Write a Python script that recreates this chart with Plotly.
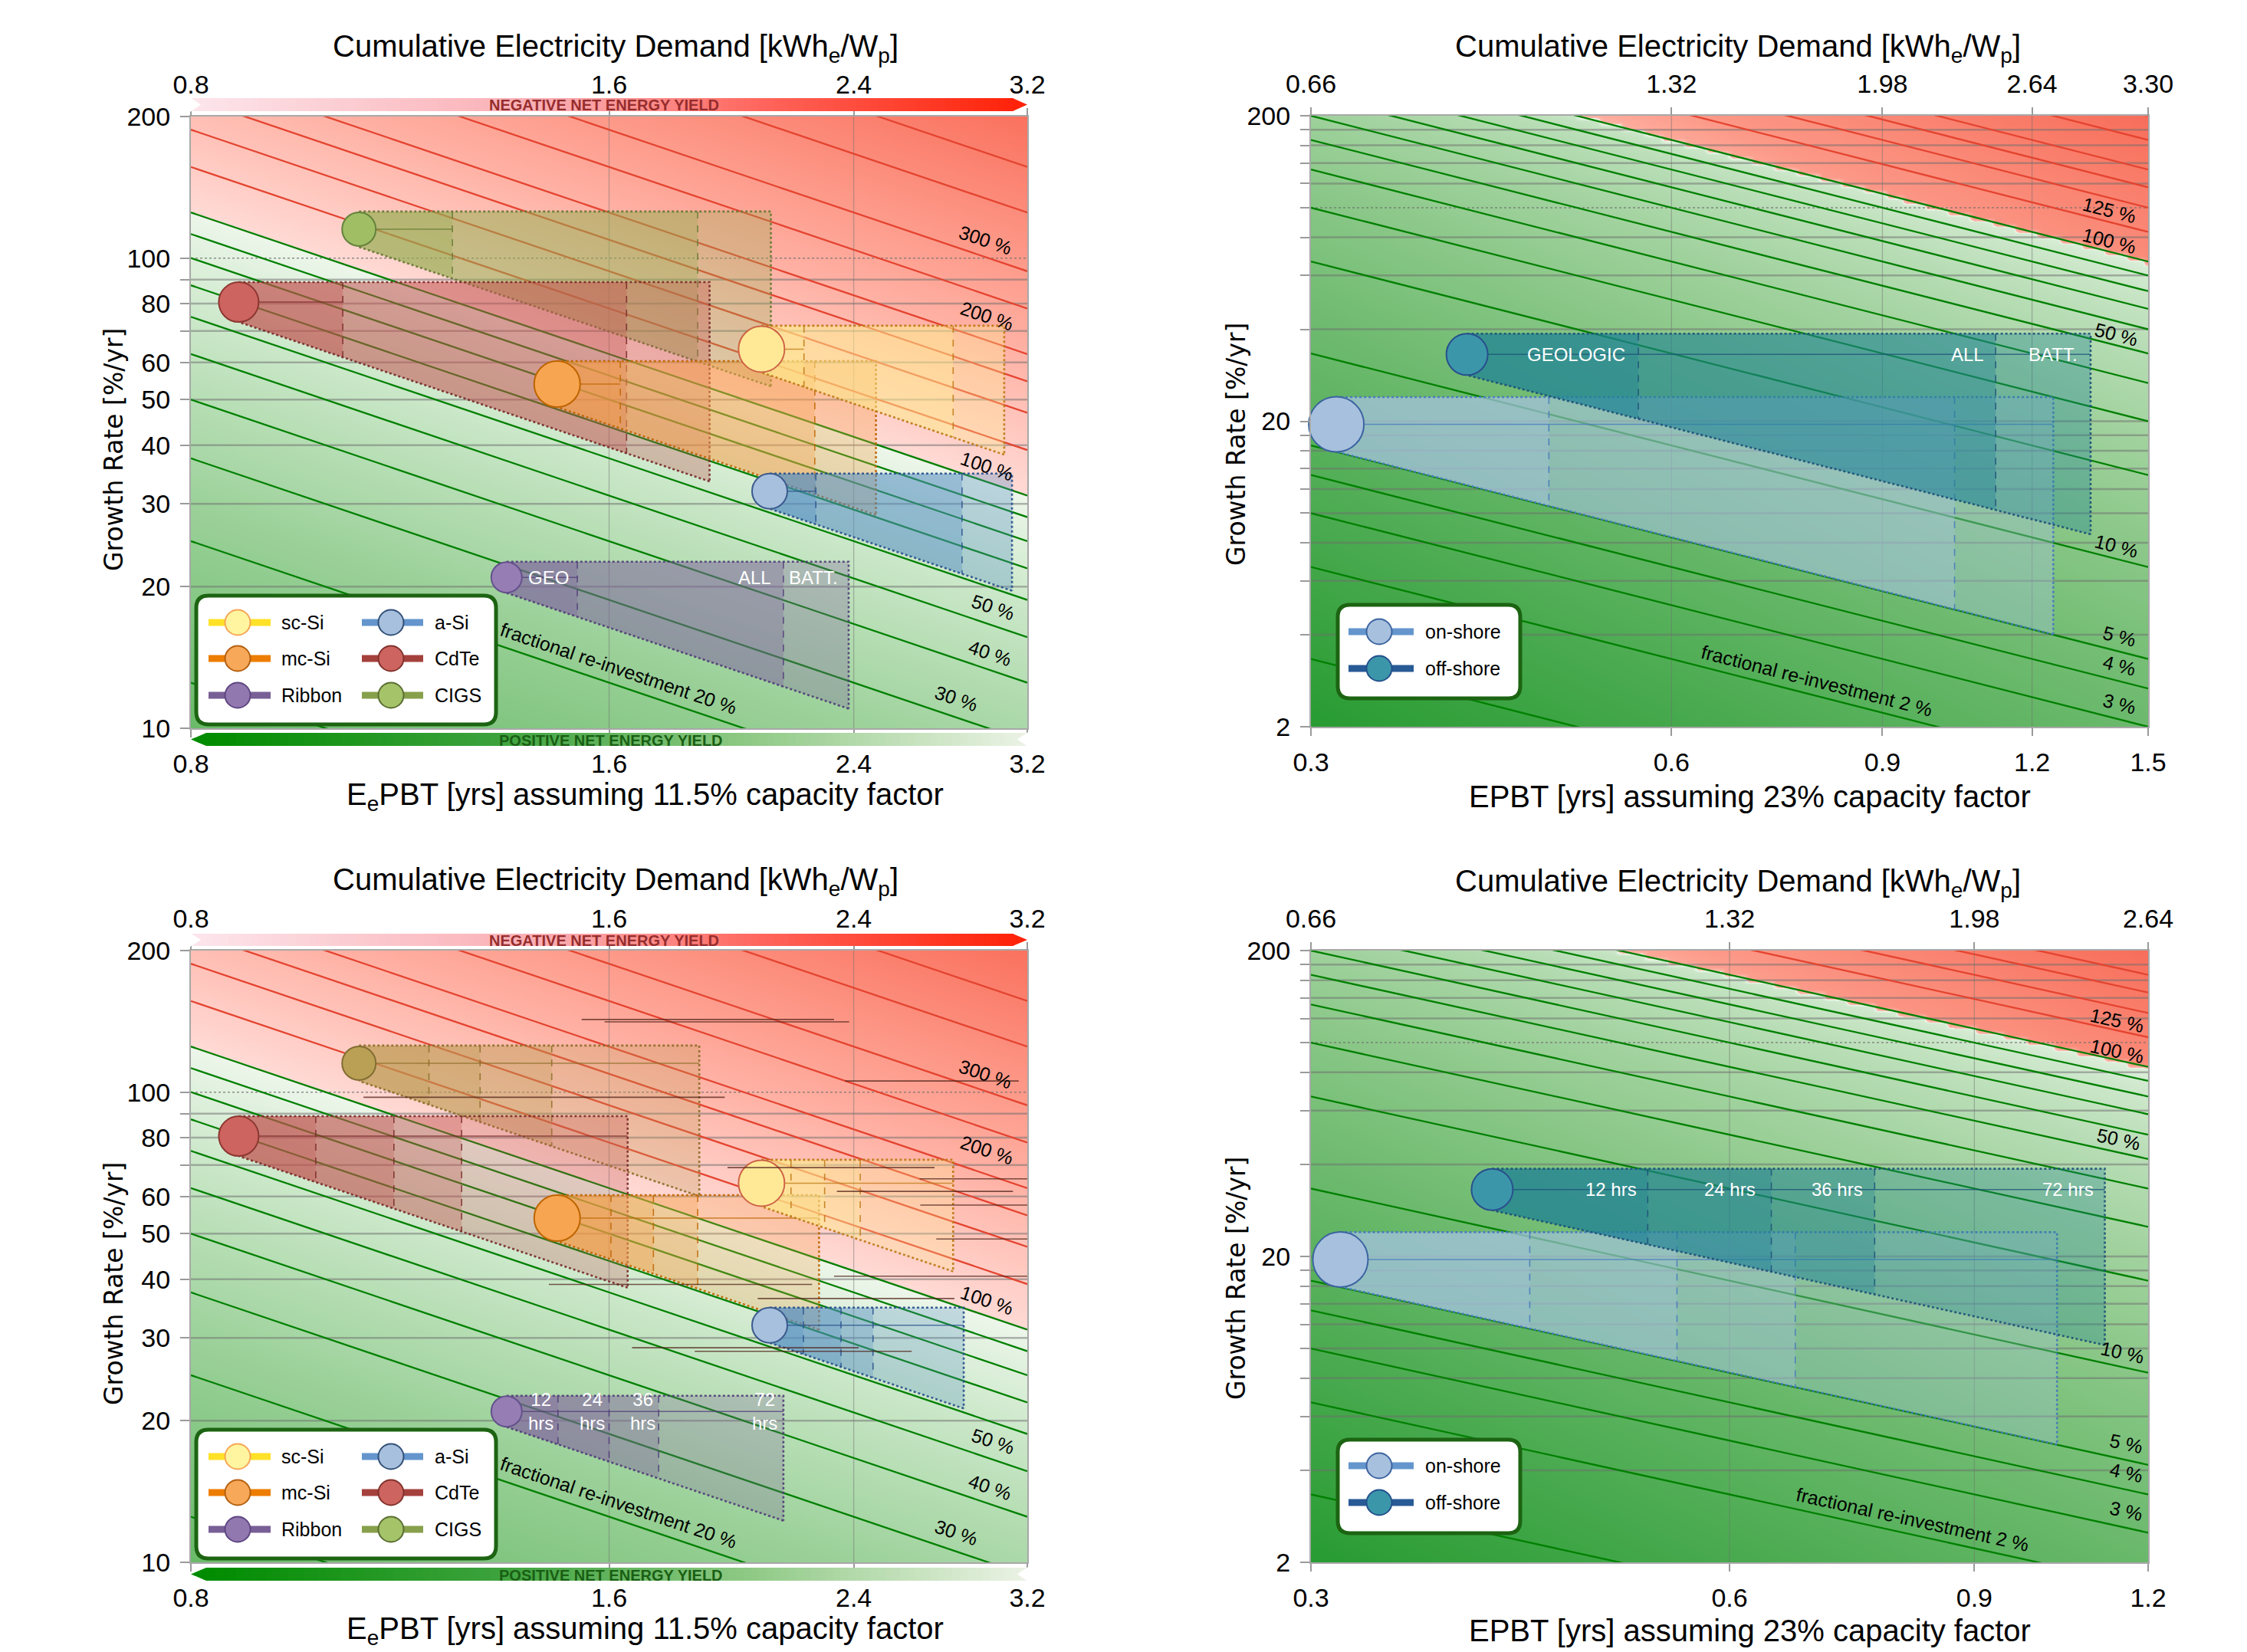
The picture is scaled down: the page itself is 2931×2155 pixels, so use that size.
import math
import numpy as np
import plotly.graph_objects as go

W, H = 2931, 2155
FONT = "Liberation Sans, Arial, sans-serif"
NARROW = "Liberation Sans Narrow, Liberation Sans, Arial, sans-serif"

# ======================= DATA =======================
PV_EPBT_RANGE = [0.8, 3.2]
PV_GROWTH_RANGE = [10, 200]
PV_EPBT_TICKS = [0.8, 1.6, 2.4, 3.2]
PV_EPBT_TICK_LABELS = ["0.8", "1.6", "2.4", "3.2"]
PV_CED_TICK_LABELS = ["0.8", "1.6", "2.4", "3.2"]
PV_GROWTH_TICKS = [10, 20, 30, 40, 50, 60, 70, 80, 90, 100, 200]
PV_GROWTH_TICK_LABELS = ["10", "20", "30", "40", "50", "60", "", "80", "", "100", "200"]

WIND_GROWTH_RANGE = [2, 200]
WIND_TOP_EPBT_RANGE = [0.3, 1.5]
WIND_TOP_EPBT_TICKS = [0.3, 0.6, 0.9, 1.2, 1.5]
WIND_TOP_EPBT_TICK_LABELS = ["0.3", "0.6", "0.9", "1.2", "1.5"]
WIND_TOP_CED_TICK_LABELS = ["0.66", "1.32", "1.98", "2.64", "3.30"]
WIND_BOT_EPBT_RANGE = [0.3, 1.2]
WIND_BOT_EPBT_TICKS = [0.3, 0.6, 0.9, 1.2]
WIND_BOT_EPBT_TICK_LABELS = ["0.3", "0.6", "0.9", "1.2"]
WIND_BOT_CED_TICK_LABELS = ["0.66", "1.32", "1.98", "2.64"]
WIND_GROWTH_TICKS = [2, 4, 6, 8, 10, 12, 14, 16, 18, 20, 40, 60, 80, 100, 120, 140, 160, 180, 200]
WIND_GROWTH_TICK_LABELS = ["2", "", "", "", "", "", "", "", "", "20",
                           "", "", "", "", "", "", "", "", "200"]

# fractional re-investment levels [%]
REINVEST_GREEN = [1, 2, 3, 4, 5, 10, 20, 30, 40, 50, 60, 70, 80, 90, 100]
REINVEST_RED = [125, 150, 175, 200, 250, 300, 400, 500]

# PV technologies
PV_TECH = ["CIGS", "CdTe", "Ribbon", "mc-Si", "sc-Si", "a-Si"]
PV_EPBT = [1.057, 0.866, 1.35, 1.468, 2.06, 2.088]
PV_GROWTH_HI = [125.6, 88.9, 22.6, 60.4, 71.8, 34.8]
PV_GROWTH_LO = [105.6, 73.1, 19.4, 48.2, 57.1, 29.3]
# EPBT incl. storage (top panel): geologic, all, battery
PV_EPBT_GEO = [1.234, 1.029, 1.518, 1.63, 2.21, 2.254]
PV_EPBT_ALL = [1.853, 1.647, 2.136, 2.25, 2.83, 2.872]
PV_EPBT_BATT = [2.092, 1.89, 2.38, 2.49, 3.08, 3.12]
# EPBT incl. storage (bottom panel): 12, 24, 36, 72 hours
PV_EPBT_12H = [1.187, 0.984, 1.47, 1.605, 2.163, 2.208]
PV_EPBT_24H = [1.292, 1.12, 1.60, 1.722, 2.287, 2.35]
PV_EPBT_36H = [1.455, 1.253, 1.737, 1.853, 2.426, 2.478]
PV_EPBT_72H = [1.858, 1.65, 2.136, 2.266, 2.83, 2.88]

# Wind technologies
WIND_TECH = ["on-shore", "off-shore"]
WIND_EPBT = [0.315, 0.405]
WIND_GROWTH_HI = [24.0, 38.7]
WIND_GROWTH_LO = [15.9, 28.3]
WIND_EPBT_GEO = [0.474, 0.563]
WIND_EPBT_ALL = [1.034, 1.119]
WIND_EPBT_BATT = [1.25, 1.343]
WIND_EPBT_12H = [0.431, 0.524]
WIND_EPBT_24H = [0.55, 0.643]
WIND_EPBT_36H = [0.669, 0.763]
WIND_EPBT_72H = [1.032, 1.117]

# labels of re-investment lines
PV_LINE_LABELS = ["300 %", "200 %", "100 %", "50 %", "40 %", "30 %", "fractional re-investment 20 %"]
PV_LINE_LABEL_EPBT = [2.986, 2.993, 2.993, 3.024, 3.01, 2.845, 1.626]
PV_LINE_LABEL_GROWTH = [109.3, 75.4, 36.1, 18.1, 14.45, 11.58, 13.4]
WIND_LINE_LABELS = ["125 %", "100 %", "50 %", "10 %", "5 %", "4 %", "3 %", "fractional re-investment 2 %"]
WIND_TOP_LINE_LABEL_EPBT = [1.392, 1.392, 1.41, 1.41, 1.42, 1.42, 1.42, 0.794]
WIND_TOP_LINE_LABEL_GROWTH = [98.2, 78.2, 38.5, 7.8, 3.95, 3.18, 2.38, 2.83]
WIND_BOT_LINE_LABEL_EPBT = [1.14, 1.14, 1.143, 1.15, 1.158, 1.158, 1.158, 0.813]
WIND_BOT_LINE_LABEL_GROWTH = [118.3, 93.9, 48.3, 9.72, 4.89, 3.93, 2.95, 2.77]

# storage tags written inside the cylinders
TL_TAGS = ["GEO", "ALL", "BATT."]
TL_TAG_EPBT = [1.396, 2.098, 2.151]
TR_TAGS = ["GEOLOGIC", "ALL", "BATT."]
TR_TAG_EPBT = [0.453, 1.098, 1.188]
BL_TAGS = ["12<br>hrs", "24<br>hrs", "36<br>hrs", "72<br>hrs"]
BL_TAG_EPBT = [1.463, 1.593, 1.733, 2.12]
BR_TAGS = ["12 hrs", "24 hrs", "36 hrs", "72 hrs"]
BR_TAG_EPBT = [0.516, 0.628, 0.75, 1.10]

# stray horizontal strokes present in the lower-left panel
BL_STRAY_EPBT0 = [1.529, 1.588, 1.065, 2.366, 1.947, 2.677, 2.334, 2.68, 2.752, 2.323, 1.448, 2.047, 1.662, 1.844]
BL_STRAY_EPBT1 = [2.323, 2.382, 1.938, 3.155, 2.744, 3.2, 3.125, 3.2, 3.2, 3.2, 2.24, 2.836, 2.42, 2.642]
BL_STRAY_GROWTH = [142.7, 141.1, 97.5, 105.6, 69.1, 65.4, 61.5, 57.5, 48.7, 40.6, 39.0, 36.4, 28.6, 28.1]

# ======================= STYLE =======================
PV_STYLE = {
    "sc-Si": dict(cyl=(255, 236, 140), edge=(190, 120, 20), ell=(255, 233, 150), ell_line=(205, 100, 70),
                  leg_line=(255, 225, 40), leg_fill=(255, 245, 160), leg_out=(247, 165, 85), r=30),
    "mc-Si": dict(cyl=(245, 160, 70), edge=(190, 100, 0), ell=(247, 165, 80), ell_line=(190, 100, 0),
                  leg_line=(237, 125, 0), leg_fill=(247, 168, 88), leg_out=(180, 95, 15), r=30),
    "a-Si": dict(cyl=(80, 140, 195), edge=(40, 80, 140), ell=(167, 192, 222), ell_line=(60, 90, 140),
                 leg_line=(100, 150, 205), leg_fill=(167, 192, 222), leg_out=(50, 80, 120), r=23),
    "CdTe": dict(cyl=(192, 80, 77), edge=(120, 40, 40), ell=(205, 100, 95), ell_line=(140, 55, 50),
                 leg_line=(165, 65, 60), leg_fill=(205, 100, 95), leg_out=(130, 50, 45), r=26),
    "Ribbon": dict(cyl=(128, 100, 160), edge=(80, 60, 120), ell=(150, 125, 180), ell_line=(100, 80, 140),
                   leg_line=(120, 95, 150), leg_fill=(145, 120, 175), leg_out=(95, 70, 130), r=20),
    "CIGS": dict(cyl=(150, 175, 80), edge=(100, 120, 50), ell=(160, 190, 100), ell_line=(100, 130, 60),
                 leg_line=(135, 160, 75), leg_fill=(165, 195, 105), leg_out=(90, 110, 50), r=22),
}
CIGS_BOTTOM = dict(cyl=(190, 155, 80), edge=(140, 110, 40), ell=(185, 160, 85), ell_line=(130, 110, 50))
WIND_STYLE = {
    "on-shore": dict(cyl=(165, 195, 225), edge=(70, 120, 190), ell=(167, 192, 222), ell_line=(60, 100, 160),
                     leg_line=(100, 150, 205), leg_fill=(167, 192, 222), leg_out=(60, 100, 160), r=36),
    "off-shore": dict(cyl=(30, 130, 150), edge=(30, 80, 120), ell=(60, 150, 170), ell_line=(40, 80, 140),
                      leg_line=(40, 90, 150), leg_fill=(60, 150, 170), leg_out=(35, 80, 140), r=27),
}

# background shading: t = 0 at the 100 % line, t = 1 far away
PV_BG = dict(green=[(0.0, (236, 246, 234)), (0.227, (200, 230, 198)), (0.545, (158, 210, 156)), (1.0, (105, 186, 105))],
             red=[(0.0, (255, 218, 213)), (0.372, (255, 178, 165)), (1.0, (250, 114, 94))],
             gf=1.0, gp=1.0, gd=0.0, rf=1.0, rd=0.0, u0=0.62)
WIND_BG = dict(green=[(0.0, (236, 246, 234)), (0.5, (140, 200, 137)), (1.0, (40, 155, 50))],
               red=[(0.0, (255, 190, 178)), (0.3, (252, 152, 135)), (1.0, (247, 110, 90))],
               gf=0.5, gp=0.5, gd=0.5, rf=0.3, rd=0.7, u0=0.6)


def rgb(c):
    return "rgb(%d,%d,%d)" % tuple(int(round(v)) for v in c)


def rgba(c, a):
    return "rgba(%d,%d,%d,%.3f)" % (int(round(c[0])), int(round(c[1])), int(round(c[2])), a)


def interp(stops, z):
    if z <= stops[0][0]:
        return stops[0][1]
    if z >= stops[-1][0]:
        return stops[-1][1]
    for (z0, c0), (z1, c1) in zip(stops, stops[1:]):
        if z0 <= z <= z1:
            t = (z - z0) / (z1 - z0) if z1 > z0 else 0.0
            return tuple(c0[i] + (c1[i] - c0[i]) * t for i in range(3))
    return stops[-1][1]


def PX(px):
    return px / W


def PY(py):
    return 1 - py / H


fig = go.Figure()
shapes = []
annotations = []
layout = {}


def ids(k):
    xid = "x" if k == 1 else "x%d" % k
    yid = "y" if k == 1 else "y%d" % k
    xkey = "xaxis" if k == 1 else "xaxis%d" % k
    ykey = "yaxis" if k == 1 else "yaxis%d" % k
    return xid, yid, xkey, ykey


def text_ann(x, y, text, size, color="black", family=FONT, xanchor="center", yanchor="middle",
             angle=0, xref="paper", yref="paper", xshift=0, align="center"):
    annotations.append(dict(x=x, y=y, xref=xref, yref=yref, text=text, showarrow=False,
                            font=dict(size=size, color=color, family=family), xanchor=xanchor,
                            yanchor=yanchor, textangle=angle, xshift=xshift, align=align))


def build_panel(k, box, xr, yr, xt, xtl, ced, yt, ytl, bg,
                techs, epbt, ghi, glo, divs, styles, center_to, alpha,
                line_labels, line_label_x, line_label_y, tags, tag_x, tag_anchor, tag_tech,
                titles, bottom_title):
    xid, yid, xkey, ykey = ids(k)
    tid = "x%d" % (k + 4)
    tkey = "xaxis%d" % (k + 4)
    x0p, x1p, y0p, y1p = box
    lx0, lx1 = math.log10(xr[0]), math.log10(xr[1])
    ly0, ly1 = math.log10(yr[0]), math.log10(yr[1])

    # ---- background shading by fraction re-invested f = g * EPBT
    xs = np.logspace(lx0, lx1, 150)
    ys = np.logspace(ly0, ly1, 110)
    LX, LY = np.meshgrid(np.log10(xs), np.log10(ys))
    xn = (LX - lx0) / (lx1 - lx0)
    yn = (LY - ly0) / (ly1 - ly0)
    lf = LX + LY - 2.0
    lfmin, lfmax = lx0 + ly0 - 2.0, lx1 + ly1 - 2.0
    tg = bg["gf"] * np.clip(lf / lfmin, 0, 1) ** bg["gp"] + bg["gd"] * (1 - (xn + yn) / 2)
    tr = bg["rf"] * np.clip(lf / lfmax, 0, 1) + bg["rd"] * np.clip(((xn + yn) / 2 - bg["u0"]) / (1 - bg["u0"]), 0, 1)
    Z = np.where(lf < 0, -np.clip(tg, 0.002, 1.0), np.clip(tr, 0.0, 1.0))
    cs = []
    for t in np.linspace(1.0, 0.0, 26):
        cs.append([(1 - t) / 2 * 0.998, rgb(interp(bg["green"], t))])
    for t in np.linspace(0.0, 1.0, 26):
        cs.append([0.5 + t / 2, rgb(interp(bg["red"], t))])
    cs[0][0] = 0.0
    cs[-1][0] = 1.0
    fig.add_trace(go.Heatmap(x=xs, y=ys, z=Z, colorscale=cs, zmin=-1, zmax=1, zsmooth="best",
                             showscale=False, hoverinfo="skip", xaxis=xid, yaxis=yid))

    # ---- grid lines
    gx, gy = [], []
    for v in yt:
        if v == 100 or v == yr[0] or v == yr[1]:
            continue
        gx += [xr[0], xr[1], None]
        gy += [v, v, None]
    fig.add_trace(go.Scatter(x=gx, y=gy, mode="lines", line=dict(color="rgba(110,110,110,0.5)", width=2.5),
                             hoverinfo="skip", xaxis=xid, yaxis=yid))
    fig.add_trace(go.Scatter(x=[xr[0], xr[1]], y=[100, 100], mode="lines",
                             line=dict(color="rgba(110,110,110,0.75)", width=1.5, dash="dot"),
                             hoverinfo="skip", xaxis=xid, yaxis=yid))
    vx, vy = [], []
    for v in xt[1:-1]:
        vx += [v, v, None]
        vy += [yr[0], yr[1], None]
    fig.add_trace(go.Scatter(x=vx, y=vy, mode="lines", line=dict(color="rgba(110,110,110,0.45)", width=1.3),
                             hoverinfo="skip", xaxis=xid, yaxis=yid))

    # ---- constant re-investment lines
    for lst, col in ((REINVEST_GREEN, "rgb(0,128,0)"), (REINVEST_RED, "rgb(228,68,48)")):
        lxs, lys = [], []
        for f in lst:
            lxs += [xr[0], xr[1], None]
            lys += [f / xr[0], f / xr[1], None]
        fig.add_trace(go.Scatter(x=lxs, y=lys, mode="lines", line=dict(color=col, width=2.3),
                                 hoverinfo="skip", xaxis=xid, yaxis=yid))

    ppd_x = (x1p - x0p) / (lx1 - lx0)
    ppd_y = (y1p - y0p) / (ly1 - ly0)
    ang = math.degrees(math.atan(ppd_y / ppd_x))
    for txt, ex, gy_ in zip(line_labels, line_label_x, line_label_y):
        text_ann(math.log10(ex), math.log10(gy_), txt, 25, xref=xid, yref=yid, angle=ang)

    # ---- storage cylinders
    for i, name in enumerate(techs):
        st = styles[name]
        E0, gh, gl = epbt[i], ghi[i], glo[i]
        dv = sorted([d[i] for d in divs])
        for d in reversed(dv):
            fig.add_trace(go.Scatter(x=[E0, d, d, E0, E0], y=[gh, gh, gl * E0 / d, gl, gh], mode="lines",
                                     fill="toself", fillcolor=rgba(st["cyl"], alpha), line=dict(width=0),
                                     hoverinfo="skip", xaxis=xid, yaxis=yid))
        dm = dv[-1]
        for d in dv[:-1]:
            fig.add_trace(go.Scatter(x=[d, d], y=[gh, gl * E0 / d], mode="lines",
                                     line=dict(color=rgba(st["edge"], 0.85), width=1.6, dash="dash"),
                                     hoverinfo="skip", xaxis=xid, yaxis=yid))
        fig.add_trace(go.Scatter(x=[E0, dm, dm], y=[gh, gh, gl * E0 / dm], mode="lines",
                                 line=dict(color=rgba(st["edge"], 0.9), width=2.6, dash="dot"),
                                 hoverinfo="skip", xaxis=xid, yaxis=yid))
        fig.add_trace(go.Scatter(x=[dm, E0], y=[gl * E0 / dm, gl], mode="lines",
                                 line=dict(color=rgba(st["edge"], 0.9), width=2.6, dash="dot"),
                                 hoverinfo="skip", xaxis=xid, yaxis=yid))
        gc = math.sqrt(gh * gl)
        cend = dv[0] if center_to == "first" else dm
        fig.add_trace(go.Scatter(x=[E0, cend], y=[gc, gc], mode="lines",
                                 line=dict(color=rgba(st["edge"], 0.75), width=1.5),
                                 hoverinfo="skip", xaxis=xid, yaxis=yid))
        fig.add_trace(go.Scatter(x=[E0], y=[gc], mode="markers", cliponaxis=False,
                                 marker=dict(size=2 * st["r"], color=rgb(st["ell"]), symbol="circle",
                                             line=dict(color=rgb(st["ell_line"]), width=2)),
                                 hoverinfo="skip", xaxis=xid, yaxis=yid))

    # ---- tags inside a cylinder
    ti = techs.index(tag_tech)
    gc = math.sqrt(ghi[ti] * glo[ti])
    for txt, ex, anc in zip(tags, tag_x, tag_anchor):
        text_ann(math.log10(ex), math.log10(gc), txt, 24, color="white", xref=xid, yref=yid,
                 xanchor=anc, align="center")

    # invisible anchor for the top (cumulative electricity demand) axis
    fig.add_trace(go.Scatter(x=[xr[0], xr[1]], y=[yr[0], yr[0]], mode="markers", marker=dict(opacity=0),
                             hoverinfo="skip", xaxis=tid, yaxis=yid))

    # ---- axes
    ax_common = dict(type="log", showgrid=False, zeroline=False, ticks="outside", tickcolor="#9a9a9a",
                     tickwidth=2, tickfont=dict(size=34, color="black", family=FONT), fixedrange=True,
                     automargin=False)
    layout[xkey] = dict(ax_common, range=[lx0, lx1], domain=[PX(x0p), PX(x1p)], anchor=yid,
                        tickvals=xt, ticktext=xtl, ticklen=10, ticklabelstandoff=5,
                        showline=True, linecolor="#a8a8a8", linewidth=2, mirror=True)
    layout[ykey] = dict(ax_common, range=[ly0, ly1], domain=[PY(y1p), PY(y0p)], anchor=xid,
                        tickvals=yt, ticktext=ytl, ticklen=12, ticklabelstandoff=6,
                        showline=True, linecolor="#a8a8a8", linewidth=2, mirror=True)
    layout[tkey] = dict(ax_common, range=[lx0, lx1], overlaying=xid, anchor=yid, side="top",
                        tickvals=xt, ticktext=ced, ticklen=10, ticklabelstandoff=5, showline=False)

    # ---- titles
    (tx, ty), (bx, by), (yx, yy) = titles
    text_ann(PX(tx), PY(ty), "Cumulative Electricity Demand [kWh<sub>e</sub>/W<sub>p</sub>]", 40)
    text_ann(PX(bx), PY(by), bottom_title, 40)
    text_ann(PX(yx), PY(yy), "Growth Rate [%/yr]", 33, family="DejaVu Sans, sans-serif", angle=-90)


def legend(box, rows, cols, names, styles):
    bx0, by0, bx1, by1 = box
    r = 16
    path = ("M {a},{b} L {c},{b} Q {x1},{b} {x1},{d} L {x1},{e} Q {x1},{y1} {c},{y1} "
            "L {a},{y1} Q {x0},{y1} {x0},{e} L {x0},{d} Q {x0},{b} {a},{b} Z").format(
        a=PX(bx0 + r), b=PY(by0), c=PX(bx1 - r), d=PY(by0 + r), e=PY(by1 - r),
        x0=PX(bx0), x1=PX(bx1), y1=PY(by1))
    shapes.append(dict(type="path", xref="paper", yref="paper", path=path, fillcolor="white",
                       line=dict(color="rgb(28,100,18)", width=5), layer="above"))
    idx = 0
    for (lx0, lx1, cx, tx) in cols:
        for ry in rows:
            if idx >= len(names):
                break
            st = styles[names[idx]]
            shapes.append(dict(type="line", xref="paper", yref="paper", x0=PX(lx0), x1=PX(lx1),
                               y0=PY(ry), y1=PY(ry), line=dict(color=rgb(st["leg_line"]), width=9),
                               layer="above"))
            shapes.append(dict(type="circle", xref="paper", yref="paper", x0=PX(cx - 16.5), x1=PX(cx + 16.5),
                               y0=PY(ry + 16.5), y1=PY(ry - 16.5), fillcolor=rgb(st["leg_fill"]),
                               line=dict(color=rgb(st["leg_out"]), width=2), layer="above"))
            text_ann(PX(tx), PY(ry), names[idx], 25, xanchor="left")
            idx += 1


def bar(x0, x1, y0, y1, stops, tip, text, tcol, tx):
    n = 110
    if tip == "right":
        s0, s1 = x0, x1 - 19
    else:
        s0, s1 = x0 + 20, x1
    for i in range(n):
        a = s0 + (s1 - s0) * i / n
        b = s0 + (s1 - s0) * (i + 1) / n + 0.8
        c = interp(stops, (i + 0.5) / n)
        shapes.append(dict(type="rect", xref="paper", yref="paper", x0=PX(a), x1=PX(b), y0=PY(y1),
                           y1=PY(y0), fillcolor=rgb(c), line=dict(width=0), layer="above"))
    ym = (y0 + y1) / 2
    if tip == "right":
        shapes.append(dict(type="path", xref="paper", yref="paper",
                           path="M %f,%f L %f,%f L %f,%f Z" % (PX(s1), PY(y0), PX(x1), PY(ym), PX(s1), PY(y1)),
                           fillcolor=rgb(stops[-1][1]), line=dict(width=0), layer="above"))
        shapes.append(dict(type="path", xref="paper", yref="paper",
                           path="M %f,%f L %f,%f L %f,%f Z" % (PX(x0 - 1), PY(y0 - 1), PX(x0 + 13), PY(ym),
                                                              PX(x0 - 1), PY(y1 + 1)),
                           fillcolor="white", line=dict(width=0), layer="above"))
    else:
        shapes.append(dict(type="path", xref="paper", yref="paper",
                           path="M %f,%f L %f,%f L %f,%f Z" % (PX(s0), PY(y0), PX(x0), PY(ym), PX(s0), PY(y1)),
                           fillcolor=rgb(stops[0][1]), line=dict(width=0), layer="above"))
        shapes.append(dict(type="path", xref="paper", yref="paper",
                           path="M %f,%f L %f,%f L %f,%f Z" % (PX(x1 + 1), PY(y0 - 1), PX(x1 - 13), PY(ym),
                                                              PX(x1 + 1), PY(y1 + 1)),
                           fillcolor="white", line=dict(width=0), layer="above"))
    text_ann(PX(tx), PY(ym + 1), "<b>%s</b>" % text, 20, color=tcol, family=NARROW)


PV_BOTTOM_TITLE = "E<sub>e</sub>PBT [yrs] assuming 11.5% capacity factor"
WIND_BOTTOM_TITLE = "EPBT [yrs] assuming 23% capacity factor"

pv_styles_bottom = dict(PV_STYLE)
pv_styles_bottom["CIGS"] = dict(PV_STYLE["CIGS"], **CIGS_BOTTOM)

build_panel(1, (249, 1340, 152, 950), PV_EPBT_RANGE, PV_GROWTH_RANGE, PV_EPBT_TICKS, PV_EPBT_TICK_LABELS,
            PV_CED_TICK_LABELS, PV_GROWTH_TICKS, PV_GROWTH_TICK_LABELS, PV_BG,
            PV_TECH, PV_EPBT, PV_GROWTH_HI, PV_GROWTH_LO, [PV_EPBT_GEO, PV_EPBT_ALL, PV_EPBT_BATT],
            PV_STYLE, "first", 0.32, PV_LINE_LABELS, PV_LINE_LABEL_EPBT, PV_LINE_LABEL_GROWTH,
            TL_TAGS, TL_TAG_EPBT, ["left", "right", "left"], "Ribbon",
            ((803, 63), (841, 1039), (148, 587)), PV_BOTTOM_TITLE)
build_panel(2, (1710, 2802, 151, 948), WIND_TOP_EPBT_RANGE, WIND_GROWTH_RANGE, WIND_TOP_EPBT_TICKS,
            WIND_TOP_EPBT_TICK_LABELS, WIND_TOP_CED_TICK_LABELS, WIND_GROWTH_TICKS, WIND_GROWTH_TICK_LABELS,
            WIND_BG, WIND_TECH, WIND_EPBT, WIND_GROWTH_HI, WIND_GROWTH_LO,
            [WIND_EPBT_GEO, WIND_EPBT_ALL, WIND_EPBT_BATT], WIND_STYLE, "last", 0.36,
            WIND_LINE_LABELS, WIND_TOP_LINE_LABEL_EPBT, WIND_TOP_LINE_LABEL_GROWTH,
            TR_TAGS, TR_TAG_EPBT, ["left", "right", "left"], "off-shore",
            ((2267, 63), (2282, 1039), (1612, 580)), WIND_BOTTOM_TITLE)
build_panel(3, (249, 1340, 1240, 2038), PV_EPBT_RANGE, PV_GROWTH_RANGE, PV_EPBT_TICKS, PV_EPBT_TICK_LABELS,
            PV_CED_TICK_LABELS, PV_GROWTH_TICKS, PV_GROWTH_TICK_LABELS, PV_BG,
            PV_TECH, PV_EPBT, PV_GROWTH_HI, PV_GROWTH_LO, [PV_EPBT_12H, PV_EPBT_24H, PV_EPBT_36H, PV_EPBT_72H],
            pv_styles_bottom, "last", 0.27, PV_LINE_LABELS, PV_LINE_LABEL_EPBT, PV_LINE_LABEL_GROWTH,
            BL_TAGS, BL_TAG_EPBT, ["right"] * 4, "Ribbon",
            ((803, 1150), (841, 2127), (148, 1675)), PV_BOTTOM_TITLE)
build_panel(4, (1710, 2802, 1240, 2038), WIND_BOT_EPBT_RANGE, WIND_GROWTH_RANGE, WIND_BOT_EPBT_TICKS,
            WIND_BOT_EPBT_TICK_LABELS, WIND_BOT_CED_TICK_LABELS, WIND_GROWTH_TICKS, WIND_GROWTH_TICK_LABELS,
            WIND_BG, WIND_TECH, WIND_EPBT, WIND_GROWTH_HI, WIND_GROWTH_LO,
            [WIND_EPBT_12H, WIND_EPBT_24H, WIND_EPBT_36H, WIND_EPBT_72H], WIND_STYLE, "last", 0.3,
            WIND_LINE_LABELS, WIND_BOT_LINE_LABEL_EPBT, WIND_BOT_LINE_LABEL_GROWTH,
            BR_TAGS, BR_TAG_EPBT, ["right"] * 4, "off-shore",
            ((2267, 1152), (2282, 2127), (1612, 1668)), WIND_BOTTOM_TITLE)

# stray strokes in the lower-left panel
sx, sy = [], []
for a, b, g in zip(BL_STRAY_EPBT0, BL_STRAY_EPBT1, BL_STRAY_GROWTH):
    sx += [a, b, None]
    sy += [g, g, None]
fig.add_trace(go.Scatter(x=sx, y=sy, mode="lines", line=dict(color="rgba(80,35,25,0.75)", width=1.6),
                         hoverinfo="skip", xaxis="x3", yaxis="y3"))

PV_LEG_ORDER = ["sc-Si", "mc-Si", "Ribbon", "a-Si", "CdTe", "CIGS"]
legend((256, 777, 647, 945), [812, 859, 907], [(272, 353, 310, 365), (472, 552, 510, 565)], PV_LEG_ORDER, PV_STYLE)
legend((256, 1865, 647, 2033), [1900, 1947, 1995], [(272, 353, 310, 365), (472, 552, 510, 565)], PV_LEG_ORDER, PV_STYLE)
legend((1745, 789, 1983, 911), [824, 872], [(1759, 1844, 1799, 1857)], WIND_TECH, WIND_STYLE)
legend((1745, 1878, 1983, 2000), [1912, 1960], [(1759, 1844, 1799, 1857)], WIND_TECH, WIND_STYLE)

NEG_STOPS = [(0.0, (252, 230, 236)), (0.45, (250, 170, 175)), (0.7, (255, 100, 90)), (1.0, (255, 35, 10))]
POS_STOPS = [(0.0, (0, 140, 0)), (0.35, (60, 162, 60)), (0.65, (140, 200, 130)), (1.0, (236, 243, 229))]
bar(249, 1340, 128, 145, NEG_STOPS, "right", "NEGATIVE NET ENERGY YIELD", "rgb(150,45,45)", 788)
bar(249, 1340, 956, 973, POS_STOPS, "left", "POSITIVE NET ENERGY YIELD", "rgb(25,95,20)", 797)
bar(249, 1340, 1218, 1234, NEG_STOPS, "right", "NEGATIVE NET ENERGY YIELD", "rgb(150,45,45)", 788)
bar(249, 1340, 2045, 2062, POS_STOPS, "left", "POSITIVE NET ENERGY YIELD", "rgb(25,95,20)", 797)

fig.update_layout(width=W, height=H, autosize=False,
                  margin=dict(l=0, r=0, t=0, b=0, pad=0, autoexpand=False),
                  paper_bgcolor="white", plot_bgcolor="white", showlegend=False,
                  font=dict(family=FONT, color="black"), shapes=shapes, annotations=annotations, **layout)
fig.write_html("out.html", config={"displayModeBar": False, "staticPlot": True},
               post_script="document.body.style.margin='0px';document.body.style.overflow='hidden';")
